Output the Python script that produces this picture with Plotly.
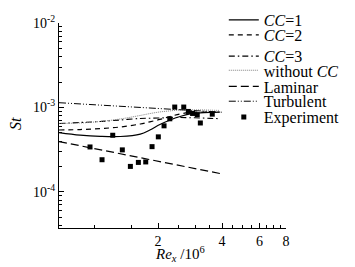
import plotly.graph_objects as go

# ---- data ----
x_curve = [0.684, 0.86, 1.07, 1.33, 1.65, 1.83, 2.04, 2.28, 2.54, 2.83, 3.15, 3.51, 3.9]
st_cc1 = [5.04e-4, 4.70e-4, 4.54e-4, 4.52e-4, 4.83e-4, 5.40e-4, 6.27e-4, 7.10e-4, 7.81e-4, 8.37e-4, 8.60e-4, 8.72e-4, 8.79e-4]
st_cc2 = [5.40e-4, 5.47e-4, 5.62e-4, 5.86e-4, 6.36e-4, 6.75e-4, 7.20e-4, 7.81e-4, 8.37e-4, 8.72e-4, 8.79e-4, 8.79e-4, 8.79e-4]
st_cc3 = [6.45e-4, 6.63e-4, 6.81e-4, 7.10e-4, 7.40e-4, 7.45e-4, 7.50e-4, 7.55e-4, 7.60e-4, 7.55e-4, 7.50e-4, 7.42e-4, 7.35e-4]
st_nocc = [6.45e-4, 6.54e-4, 6.81e-4, 7.30e-4, 8.03e-4, 8.45e-4, 8.84e-4, 9.10e-4, 9.34e-4, 9.34e-4, 9.34e-4, 9.28e-4, 9.21e-4]

x_lam = [0.684, 1.0, 2.0, 4.0]
st_lam = [3.94e-4, 3.26e-4, 2.30e-4, 1.63e-4]
x_turb = [0.684, 1.0, 2.0, 4.0]
st_turb = [1.137e-3, 1.077e-3, 9.70e-4, 8.77e-4]

x_exp = [0.957, 1.09, 1.224, 1.358, 1.482, 1.616, 1.75, 1.874, 2.006, 2.134, 2.272,
         2.396, 2.642, 2.777, 2.907, 3.058, 3.162, 3.598]
st_exp = [3.40e-4, 2.40e-4, 4.68e-4, 3.14e-4, 2.00e-4, 2.23e-4, 2.26e-4, 3.43e-4, 4.48e-4,
          6.05e-4, 7.33e-4, 1.01e-3, 1.01e-3, 8.96e-4, 8.48e-4, 8.21e-4, 6.54e-4, 8.32e-4]

x_major = [2, 4, 6, 8]
x_major_text = ["2", "4", "6", "8"]
x_minor = [1, 1.5, 2.5, 3, 3.5, 4.5, 5, 5.5, 6.5, 7, 7.5]
y_major = [1e-4, 1e-3, 1e-2]
y_major_text = ["10<sup>-4</sup>", "10<sup>-3</sup>", "10<sup>-2</sup>"]
y_minor = [m * 10.0 ** e for e in (-5, -4, -3) for m in range(2, 10) if 3.7e-5 <= m * 10.0 ** e <= 1e-2]

FONT = "Liberation Serif"

legend_y = [1.015, 0.942, 0.838, 0.769, 0.690, 0.618, 0.541]
legend_names = ["legend", "legend2", "legend3", "legend4", "legend5", "legend6", "legend7"]

fig = go.Figure()
fig.add_trace(go.Scatter(x=x_curve, y=st_cc1, mode="lines", name="<i>CC</i>=1",
                         line=dict(color="black", width=1.2), line_shape="spline", legend=legend_names[0]))
fig.add_trace(go.Scatter(x=x_curve, y=st_cc2, mode="lines", name="<i>CC</i>=2",
                         line=dict(color="black", width=1.2, dash="5px,4px"), line_shape="spline", legend=legend_names[1]))
fig.add_trace(go.Scatter(x=x_curve, y=st_cc3, mode="lines", name="<i>CC</i>=3",
                         line=dict(color="black", width=1.1, dash="6px,3px,1.5px,3px"), line_shape="spline", legend=legend_names[2]))
fig.add_trace(go.Scatter(x=x_curve, y=st_nocc, mode="lines", name="without <i>CC</i>",
                         line=dict(color="#808080", width=1, dash="1px,1px"), line_shape="spline", legend=legend_names[3]))
fig.add_trace(go.Scatter(x=x_lam, y=st_lam, mode="lines", name="Laminar",
                         line=dict(color="black", width=1.2, dash="8px,4px"), legend=legend_names[4]))
fig.add_trace(go.Scatter(x=x_turb, y=st_turb, mode="lines", name="Turbulent",
                         line=dict(color="black", width=1, dash="7px,2px,1px,2px,1px,2px"), legend=legend_names[5]))
fig.add_trace(go.Scatter(x=x_exp, y=st_exp, mode="markers", name="Experiment",
                         marker=dict(symbol="square", size=5, color="black"), legend=legend_names[6]))

leg_common = dict(x=0.726, xanchor="left", yanchor="middle", bgcolor="rgba(0,0,0,0)",
                  borderwidth=0, font=dict(family=FONT, size=16, color="black"),
                  tracegroupgap=0)
layout_legends = {}
for name, yy in zip(legend_names, legend_y):
    layout_legends[name] = dict(leg_common, y=yy)

fig.update_layout(
    width=355, height=267,
    margin=dict(l=51, r=77, t=15, b=47, autoexpand=False),
    paper_bgcolor="white", plot_bgcolor="white",
    font=dict(family=FONT, size=14, color="black"),
    showlegend=True,
    **layout_legends,
    xaxis=dict(type="log", range=[-0.165, 0.903], showgrid=False, zeroline=False,
               showline=True, linecolor="black", linewidth=1.2,
               tickmode="array", tickvals=x_major, ticktext=x_major_text,
               ticks="inside", ticklen=5, tickwidth=1, tickcolor="black",
               tickfont=dict(family=FONT, size=14),
               minor=dict(tickmode="array", tickvals=x_minor, ticks="inside",
                          ticklen=3, tickwidth=1, tickcolor="black", showgrid=False)),
    yaxis=dict(type="log", range=[-4.4286, -2], showgrid=False, zeroline=False,
               showline=True, linecolor="black", linewidth=1.2,
               tickmode="array", tickvals=y_major, ticktext=y_major_text,
               ticks="inside", ticklen=5, tickwidth=1, tickcolor="black",
               tickfont=dict(family=FONT, size=14),
               minor=dict(tickmode="array", tickvals=y_minor, ticks="inside",
                          ticklen=3, tickwidth=1, tickcolor="black", showgrid=False)),
    annotations=[
        dict(text="<i>St</i>", xref="paper", yref="paper", x=-0.194, y=0.512,
             xanchor="center", yanchor="middle",
             textangle=-90, showarrow=False, font=dict(family=FONT, size=16)),
        dict(text="<i>Re</i><sub><i>x</i></sub> /10<sup>6</sup>", xref="paper", yref="paper",
             x=0.533, y=-0.125, xanchor="center", yanchor="middle",
             showarrow=False, font=dict(family=FONT, size=15)),
    ],
)

fig.write_html("out.html")
